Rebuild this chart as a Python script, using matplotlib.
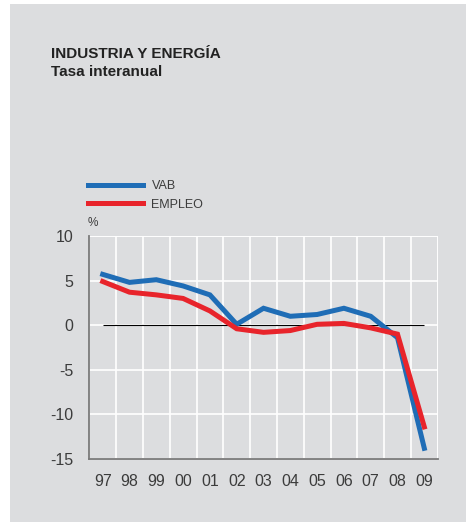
import matplotlib
matplotlib.use("Agg")
import matplotlib.pyplot as plt
from matplotlib.patches import Rectangle
from matplotlib.ticker import MultipleLocator

plt.rcParams['font.family'] = ['Liberation Sans', 'DejaVu Sans']
plt.rcParams['axes.unicode_minus'] = False

years = ['97', '98', '99', '00', '01', '02', '03', '04', '05', '06', '07', '08', '09']
vab = [5.7, 4.8, 5.1, 4.4, 3.4, 0.1, 1.9, 1.0, 1.2, 1.9, 1.0, -1.4, -13.8]
empleo = [4.9, 3.7, 3.4, 3.0, 1.6, -0.4, -0.8, -0.6, 0.1, 0.2, -0.3, -1.0, -11.4]

BG = '#dcdddf'
BLUE = '#1f6db6'
RED = '#e8242b'
TXT = '#3c3c3c'

fig = plt.figure(figsize=(4.66, 5.22), dpi=100)
fig.patch.set_facecolor('white')
# grey panel (small white strip on left and top)
fig.patches.append(Rectangle((10 / 466, 0), 1, 1 - 4 / 522, transform=fig.transFigure,
                             facecolor=BG, edgecolor='none', zorder=-10))

ax = fig.add_axes([89.3 / 466, 1 - 459 / 522, 348.4 / 466, 223 / 522])
ax.set_facecolor(BG)

x = list(range(len(years)))
ax.plot(x, vab, color=BLUE, lw=3.6, solid_joinstyle='miter', label='VAB', zorder=4)
ax.plot(x, empleo, color=RED, lw=3.6, solid_joinstyle='miter', label='EMPLEO', zorder=5)
ax.hlines(0, x[0], x[-1], color='black', lw=0.8, zorder=3)

ax.set_xlim(-0.5, len(years) - 0.5)
ax.set_ylim(-15, 10)
ax.set_yticks([10, 5, 0, -5, -10, -15])
ax.set_xticks(x)
ax.set_xticklabels(years)
ax.xaxis.set_minor_locator(MultipleLocator(1, offset=0.5))
ax.grid(True, which='minor', axis='x', color='white', lw=1.2, zorder=1)
ax.grid(True, which='major', axis='y', color='white', lw=1.2, zorder=1)
ax.axhline(10, color='white', lw=1.2, zorder=1)
ax.axvline(len(years) - 0.5, color='white', lw=1.2, zorder=1)
ax.tick_params(which='both', length=0)
ax.tick_params(axis='y', pad=11.5, labelsize=11.5, labelcolor=TXT)
ax.tick_params(axis='x', pad=11, labelsize=11.5, labelcolor=TXT)

for s in ['top', 'right']:
    ax.spines[s].set_visible(False)
for s in ['left', 'bottom']:
    ax.spines[s].set_color('#7a7a7a')
    ax.spines[s].set_linewidth(1.3)
    ax.spines[s].set_zorder(6)

ax.legend(loc='upper left', bbox_to_anchor=(87.7 / 466, 1 - 180.5 / 522),
          bbox_transform=fig.transFigure, frameon=False, fontsize=9,
          handlelength=4.4, handletextpad=0.7, labelspacing=0.5,
          borderpad=0, borderaxespad=0, labelcolor=TXT)

fig.text(88 / 466, 1 - 223 / 522, '%', fontsize=8.5, color=TXT, va='center', ha='left')
fig.text(51 / 466, 1 - 58.3 / 522, 'INDUSTRIA Y ENERGÍA', fontsize=11, color='#222222',
         fontweight='bold', va='baseline')
fig.text(51 / 466, 1 - 76 / 522, 'Tasa interanual', fontsize=11, color='#222222',
         fontweight='bold', va='baseline')

fig.savefig('out.png', dpi=100, facecolor=fig.get_facecolor())
